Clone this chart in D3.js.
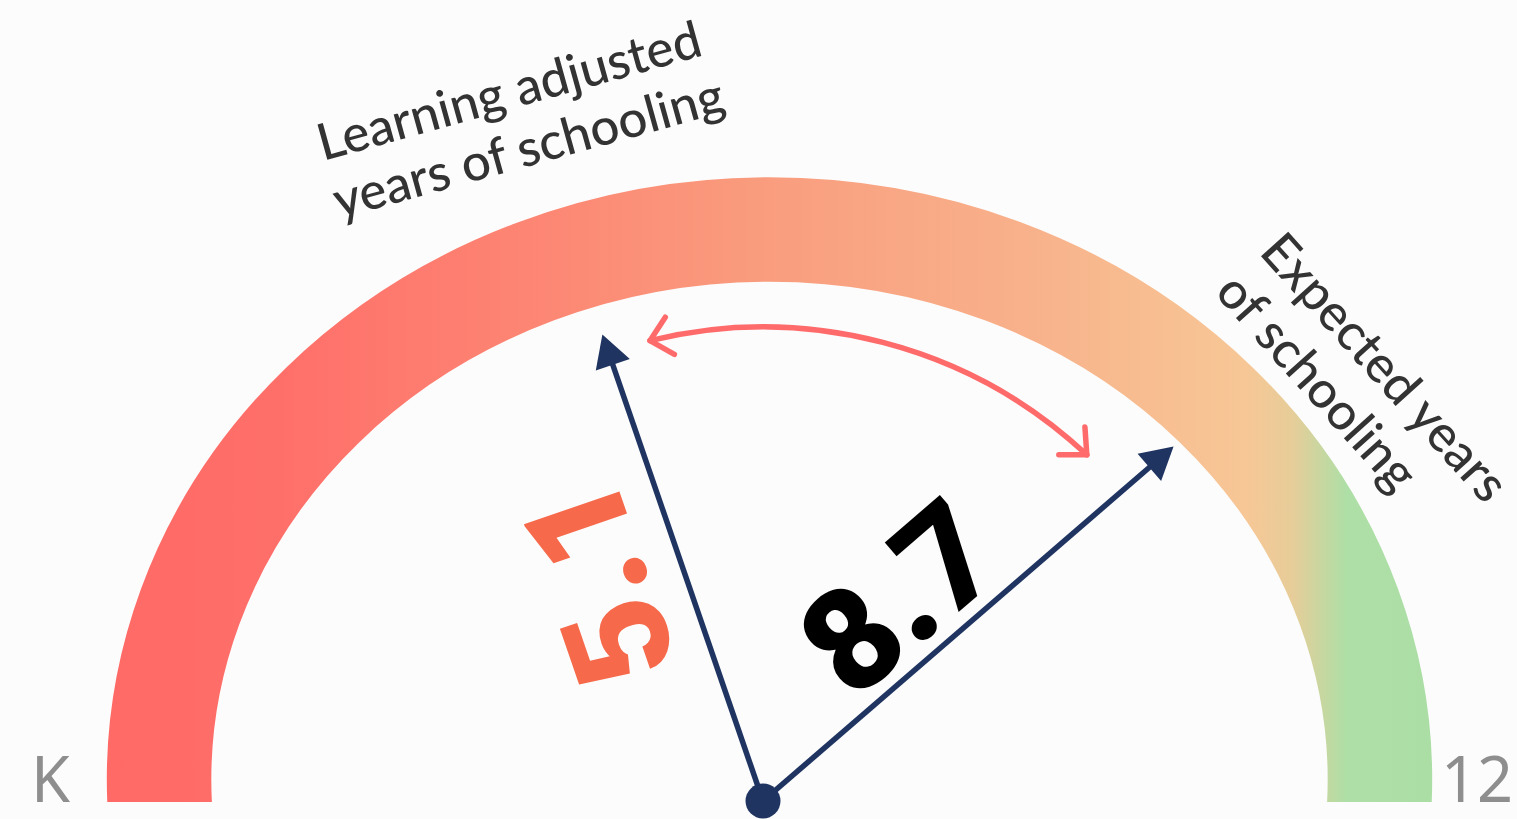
<!DOCTYPE html>
<html>
<head>
<meta charset="utf-8">
<script src="https://cdn.jsdelivr.net/npm/d3@7"></script>
<style>
  html, body { margin: 0; padding: 0; background: #fcfcfc; }
  svg { display: block; }
</style>
</head>
<body>
<svg id="chart" width="1517" height="819"></svg>
<script>
// ---------- data ----------
const categories = ["Learning adjusted years of schooling", "Expected years of schooling"];
const categoryLines = [["Learning adjusted", "years of schooling"], ["Expected years", "of schooling"]];
const values = [5.1, 8.7];
const valueLabels = ["5.1", "8.7"];
const tickValues = [0, 12];
const tickLabels = ["K", "12"];

// ---------- layout ----------
const W = 1517, H = 819;
const svg = d3.select("#chart");
svg.append("rect").attr("width", W).attr("height", H).attr("fill", "#fcfcfc");

const gauge = { cx: 769.5, cy: 780, rx: 610.4, ry: 550.5, width: 104.5, bottom: 802 };
const pivot = { x: 763, y: 801 };
const needleReach = { rx: 603, ry: 484 };
const navy = "#1f3461";

// angle (degrees clockwise from vertical) for each value
const angle = d3.scaleLinear().domain([0, 12]).range([-115.6, 111.7]);
// horizontal scale spanning the gauge band
const xTick = d3.scaleLinear().domain([0, 12]).range([gauge.cx - gauge.rx - gauge.width / 2, gauge.cx + gauge.rx + gauge.width / 2]);

// ---------- gradient ----------
const defs = svg.append("defs");
const grad = defs.append("linearGradient").attr("id", "g")
  .attr("gradientUnits", "userSpaceOnUse")
  .attr("x1", xTick(0)).attr("x2", xTick(12)).attr("y1", 0).attr("y2", 0);
[[0, "#ff6a66"], [0.13, "#ff6f6a"], [0.3, "#fd8372"], [0.5, "#f99d7e"], [0.7, "#f8b28b"],
 [0.86, "#f7c796"], [0.895, "#e6cd99"], [0.935, "#aedfa6"], [1, "#abdea5"]]
  .forEach(([o, c]) => grad.append("stop").attr("offset", o).attr("stop-color", c));

defs.append("clipPath").attr("id", "clip")
  .append("rect").attr("x", 0).attr("y", 0).attr("width", W).attr("height", gauge.bottom);

// ---------- gauge arc (elliptical band) ----------
const endDy = 40;
const endDx = gauge.rx * Math.sqrt(1 - (endDy / gauge.ry) ** 2);
svg.append("path")
  .attr("clip-path", "url(#clip)")
  .attr("d", `M${gauge.cx - endDx},${gauge.cy + endDy} A${gauge.rx},${gauge.ry} 0 1 1 ${gauge.cx + endDx},${gauge.cy + endDy}`)
  .attr("fill", "none")
  .attr("stroke", "url(#g)")
  .attr("stroke-width", gauge.width);

// ---------- end labels ----------
svg.selectAll("text.tick").data(tickValues).join("text")
  .attr("class", "tick")
  .attr("x", (d, i) => i === 0 ? 31 : 1513)
  .attr("y", 802)
  .attr("text-anchor", (d, i) => i === 0 ? "start" : "end")
  .attr("font-family", "'Noto Sans', 'Open Sans', sans-serif")
  .attr("font-size", 63)
  .attr("fill", "#8e8e8e")
  .text((d, i) => tickLabels[i]);

// ---------- category labels ----------
const catLayout = [
  { x: 323, y: 161, rot: -15.5 },
  { x: 1258, y: 253, rot: 48 }
];
categories.forEach((c, i) => {
  const g = svg.append("g")
    .attr("transform", `translate(${catLayout[i].x},${catLayout[i].y}) rotate(${catLayout[i].rot})`);
  g.selectAll("text").data(categoryLines[i]).join("text")
    .attr("x", 0).attr("y", (d, j) => j * 60)
    .attr("font-family", "Lato, 'Open Sans', sans-serif")
    .attr("font-size", 51)
    .attr("font-weight", 500)
    .attr("fill", "#333333")
    .text(d => d);
});

// ---------- red double arrow between values ----------
const rad = d => d * Math.PI / 180;
const arrowR = 474;
const a0 = angle(values[0]) + 5.2, a1 = angle(values[1]) - 6.1;
const p = d3.path();
p.arc(pivot.x, pivot.y, arrowR, rad(a0 - 90), rad(a1 - 90), false);
svg.append("path").attr("d", p.toString())
  .attr("fill", "none").attr("stroke", "#ff6b6b").attr("stroke-width", 5.5).attr("stroke-linecap", "round");

function chevron(phi, dir) {
  const t = rad(phi);
  const tip = [pivot.x + arrowR * Math.sin(t), pivot.y - arrowR * Math.cos(t)];
  const tx = Math.cos(t) * dir, ty = Math.sin(t) * dir;
  const back = Math.atan2(-ty, -tx);
  const L = 28, spread = rad(43);
  const pts = [
    [tip[0] + L * Math.cos(back + spread), tip[1] + L * Math.sin(back + spread)],
    tip,
    [tip[0] + L * Math.cos(back - spread), tip[1] + L * Math.sin(back - spread)]
  ];
  svg.append("path").attr("d", d3.line()(pts))
    .attr("fill", "none").attr("stroke", "#ff6b6b").attr("stroke-width", 5.5)
    .attr("stroke-linecap", "round").attr("stroke-linejoin", "round");
}
chevron(a0, -1);
chevron(a1, 1);

// ---------- needles ----------
const reach = phi => {
  const t = rad(phi);
  return 1 / Math.sqrt((Math.sin(t) / needleReach.rx) ** 2 + (Math.cos(t) / needleReach.ry) ** 2);
};
const labelLayout = [
  { along: 260, off: 35, color: "#f66a4b" },
  { along: 236, off: 15, color: "#000000" }
];
values.forEach((v, i) => {
  const phi = angle(v);
  const len = reach(phi);
  const g = svg.append("g")
    .attr("transform", `translate(${pivot.x},${pivot.y}) rotate(${phi - 90})`);
  g.append("line").attr("x1", 0).attr("y1", 0).attr("x2", len - 26).attr("y2", 0)
    .attr("stroke", navy).attr("stroke-width", 5.5);
  g.append("path").attr("d", d3.line()([[len, 0], [len - 32, -18], [len - 32, 18]]) + "Z")
    .attr("fill", navy);
  g.append("text")
    .attr("x", labelLayout[i].along).attr("y", -labelLayout[i].off)
    .attr("text-anchor", "middle")
    .attr("font-family", "Roboto, 'Open Sans', sans-serif")
    .attr("font-weight", 900)
    .attr("font-size", 142)
    .attr("fill", labelLayout[i].color)
    .text(valueLabels[i]);
});

// pivot dot
svg.append("circle").attr("cx", pivot.x).attr("cy", pivot.y).attr("r", 17.5).attr("fill", navy);
</script>
</body>
</html>
